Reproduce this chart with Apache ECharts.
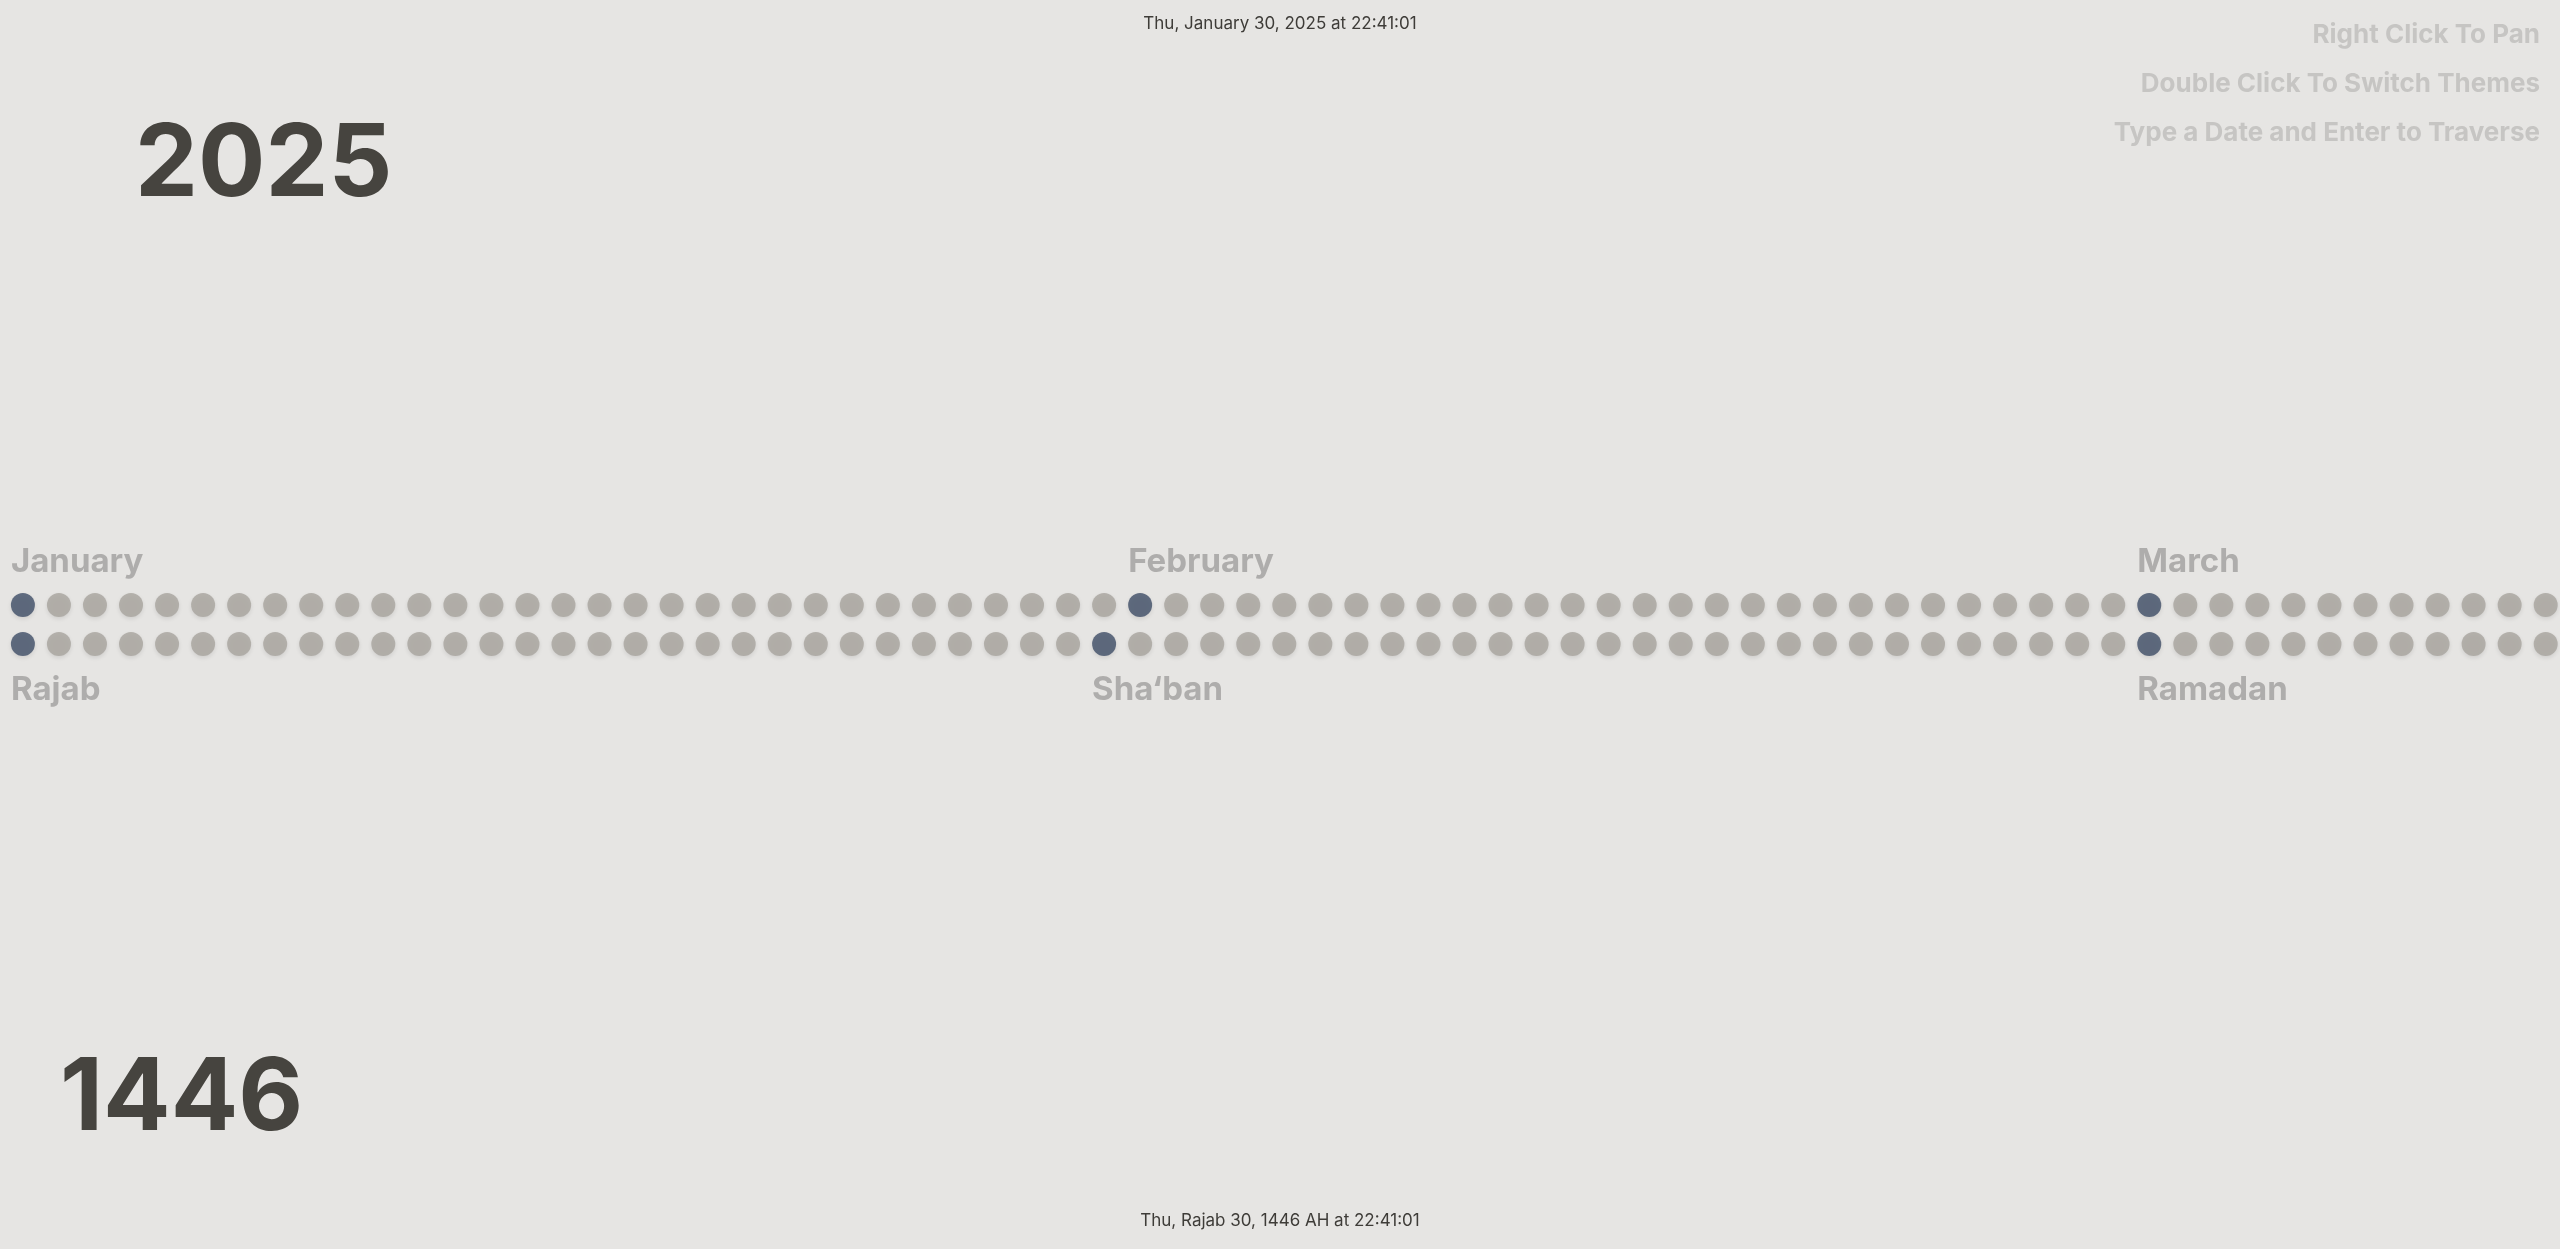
<!DOCTYPE html>
<html><head><meta charset="utf-8">
<script src="https://cdn.jsdelivr.net/npm/echarts@6/dist/echarts.min.js"></script>
<style>html,body{margin:0;padding:0;background:#e6e5e3;}#c{width:2560px;height:1249px;}</style>
</head><body><div id="c"></div>
<script>
const gregMonths = [{name:'January',days:31},{name:'February',days:28},{name:'March',days:12}];
const hijriMonths = [{name:'Rajab',days:30},{name:'Sha‘ban',days:29},{name:'Ramadan',days:12}];
const gregYear = '2025', hijriYear = '1446';
const topStamp = 'Thu, January 30, 2025 at 22:41:01';
const bottomStamp = 'Thu, Rajab 30, 1446 AH at 22:41:01';
const hints = ['Right Click To Pan','Double Click To Switch Themes','Type a Date and Enter to Traverse'];

const FONT = 'Inter, "Open Sans", sans-serif';
function build(months, row){
  const normal=[], first=[], labels=[]; let i=0;
  months.forEach(m=>{ for(let d=0; d<m.days; d++){ (d===0?first:normal).push([i,row]); if(d===0) labels.push([i,m.name]); i++; } });
  return {normal, first, labels};
}
const g = build(gregMonths, 1), h = build(hijriMonths, 0);
const chart = echarts.init(document.getElementById('c'));
const dotStyle = c => ({color:c, shadowColor:'rgba(0,0,0,0.12)', shadowBlur:4, shadowOffsetY:2});
const x0 = 22.9, step = 36.04;
const labelSeries = (arr, row, dy) => ({type:'scatter', symbolSize:0, data:arr.map(a=>({value:[a[0],row], name:a[1]})),
  label:{show:true, formatter:p=>p.name, position:'inside', align:'left', offset:[-12, dy], color:'#a09f9d', fontSize:33, fontWeight:'bold', fontFamily:FONT}, silent:true});
chart.setOption({
  backgroundColor:'#e6e5e3', animation:false,
  grid:{left:0,right:0,top:605,bottom:1249-644},
  xAxis:{type:'value', min:-x0/step, max:(2560-x0)/step, show:false},
  yAxis:{type:'value', min:0, max:1, show:false},
  series:[
    {type:'scatter', symbolSize:24, data:g.normal.concat(h.normal), itemStyle:dotStyle('#a8a49e'), silent:true},
    {type:'scatter', symbolSize:24, data:g.first.concat(h.first), itemStyle:dotStyle('#3f4e66'), silent:true},
    labelSeries(g.labels,1,-43),
    labelSeries(h.labels,0,46)
  ],
  graphic:[
    {type:'text', left:'center', top:15, style:{text:topStamp, fontSize:17, fill:'#3e3c38', fontFamily:FONT}},
    {type:'text', left:'center', top:1212, style:{text:bottomStamp, fontSize:17, fill:'#3e3c38', fontFamily:FONT}},
    {type:'text', x:135, y:166, style:{text:gregYear, fontSize:100, fontWeight:'bold', fill:'#46443f', fontFamily:FONT, verticalAlign:'middle'}},
    {type:'text', x:60, y:1100, style:{text:hijriYear, fontSize:100, fontWeight:'bold', fill:'#46443f', fontFamily:FONT, verticalAlign:'middle'}},
    ...hints.map((t,k)=>({type:'text', x:2540, y:35+49*k, style:{text:t, fontSize:26, fontWeight:'bold', fill:'#c6c5c3', fontFamily:FONT, align:'right', verticalAlign:'middle'}}))
  ]
});
</script></body></html>
